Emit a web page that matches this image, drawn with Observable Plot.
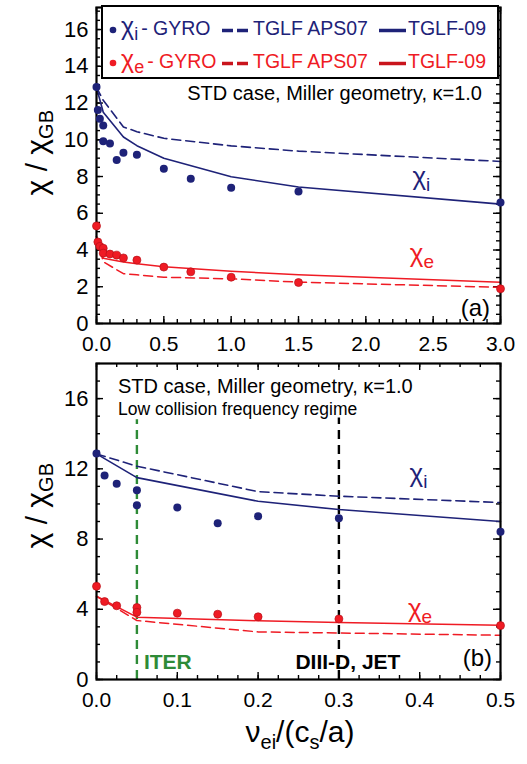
<!DOCTYPE html>
<html>
<head>
<meta charset="utf-8">
<script src="https://cdn.jsdelivr.net/npm/d3@7"></script>
<script src="https://cdn.jsdelivr.net/npm/@observablehq/plot@0.6"></script>
<style>
  body { margin: 0; background: #fff; }
  #chart { width: 527px; height: 764px; }
  #chart svg { display: block; }
</style>
</head>
<body>
<div id="chart"></div>
<script>
// ---------------- data ----------------
const gyroNu   = [0, 0.01, 0.025, 0.05, 0.05, 0.1, 0.15, 0.2, 0.3, 0.5, 0.7, 1.0, 1.5, 3.0];
const gyroChiI = [12.87, 11.62, 11.15, 10.78, 9.92, 9.8, 8.9, 9.3, 9.18, 8.42, 7.88, 7.39, 7.19, 6.59];
const gyroChiE = [5.31, 4.44, 4.2, 4.1, 3.83, 3.78, 3.72, 3.57, 3.45, 3.07, 2.81, 2.52, 2.23, 1.89];

const tglfNu     = [0, 0.05, 0.2, 0.3, 0.5, 1.0, 1.5, 3.0];
const aps07ChiI  = [12.85, 12.15, 10.7, 10.44, 10.08, 9.67, 9.38, 8.82];
const tglf09ChiI = [12.85, 11.5, 10.15, 9.68, 9.0, 7.99, 7.43, 6.5];
const aps07ChiE  = [4.74, 3.36, 2.71, 2.65, 2.52, 2.43, 2.25, 1.97];
const tglf09ChiE = [4.74, 3.55, 3.35, 3.25, 3.09, 2.84, 2.65, 2.25];

const refNu    = [0.05, 0.3];
const refTop   = [14.8, 14.9];
const refLabel = ["ITER", "DIII-D, JET"];

const xTicksA = [0, 0.5, 1.0, 1.5, 2.0, 2.5, 3.0];
const yTicksA = [0, 2, 4, 6, 8, 10, 12, 14, 16];
const xTicksB = [0, 0.1, 0.2, 0.3, 0.4, 0.5];
const yTicksB = [0, 4, 8, 12, 16];

const legendLabels = ["- GYRO", "TGLF APS07", "TGLF-09"];
const annotationA = "STD case, Miller geometry, \u03ba=1.0";
const annotationB = ["STD case, Miller geometry, \u03ba=1.0", "Low collision frequency regime"];

// ---------------- tables ----------------
const gyro = gyroNu.map((x, k) => ({x, i: gyroChiI[k], e: gyroChiE[k]}));
const tglf = tglfNu.map((x, k) => ({x, ai: aps07ChiI[k], ti: tglf09ChiI[k], ae: aps07ChiE[k], te: tglf09ChiE[k]}));
const refs = refNu.map((x, k) => ({x, top: refTop[k], label: refLabel[k]}));

// ---------------- styles ----------------
const FONT = "'Liberation Sans', Arial, Helvetica, sans-serif";
const NAVY = "#1e2278";
const RED = "#ef1b24";
const DARKRED = "#c9141c";
const GREEN = "#2e8b37";
const W = 527, ML = 96, MR = 27;
const PW = W - ML - MR;

function makePanel(o) {
  const H = o.height - o.marginTop - o.marginBottom;
  const keep = d => d.x <= o.xDomain[1] + 1e-9;
  const g = gyro.filter(keep), t = tglf.filter(keep);
  const tick = {stroke: "black", strokeWidth: 1.4};
  return Plot.plot({
    width: W, height: o.height,
    marginLeft: ML, marginRight: MR, marginTop: o.marginTop, marginBottom: o.marginBottom,
    style: {fontFamily: FONT, fontSize: "21px", color: "black", background: "white", overflow: "visible"},
    x: {domain: o.xDomain},
    y: {domain: o.yDomain},
    marks: [
      Plot.ruleX(o.xMinor, {...tick, insetTop: H - 4}),
      Plot.ruleX(o.xMinor, {...tick, insetBottom: H - 4}),
      Plot.ruleX(o.xTicks, {...tick, insetTop: H - 7}),
      Plot.ruleX(o.xTicks, {...tick, insetBottom: H - 7}),
      Plot.ruleY(o.yMinor, {...tick, insetRight: PW - 4}),
      Plot.ruleY(o.yMinor, {...tick, insetLeft: PW - 4}),
      Plot.ruleY(o.yTicks, {...tick, insetRight: PW - 7}),
      Plot.ruleY(o.yTicks, {...tick, insetLeft: PW - 7}),
      ...(o.extra || []),
      Plot.line(t, {x: "x", y: "ai", stroke: NAVY, strokeWidth: 1.6, strokeDasharray: "9,5"}),
      Plot.line(t, {x: "x", y: "ti", stroke: NAVY, strokeWidth: 1.6}),
      Plot.line(t, {x: "x", y: "ae", stroke: RED, strokeWidth: 1.5, strokeDasharray: "9,5"}),
      Plot.line(t, {x: "x", y: "te", stroke: RED, strokeWidth: 1.5}),
      Plot.frame({stroke: "black", strokeWidth: 2.2}),
      Plot.dot(g, {x: "x", y: "i", r: 4, fill: NAVY}),
      Plot.dot(g, {x: "x", y: "e", r: 4, fill: RED, stroke: "#b8111a", strokeWidth: 0.7}),
      Plot.axisX({ticks: o.xTicks, tickSize: 0, tickPadding: o.xPad, tickFormat: d3.format(".1f"), fontSize: 21, label: null}),
      Plot.axisY({ticks: o.yTicks, tickSize: 0, tickPadding: 8, fontSize: 22, label: null})
    ]
  });
}

const svgA = makePanel({
  height: 352, marginTop: 7, marginBottom: 29,
  xDomain: [0, 3], yDomain: [0, 17.2],
  xTicks: xTicksA, xMinor: d3.range(0, 3.0001, 0.1),
  yTicks: yTicksA, yMinor: d3.range(0, 17.01, 0.5),
  xPad: 13
});

const svgB = makePanel({
  height: 412, marginTop: 11, marginBottom: 85,
  xDomain: [0, 0.5], yDomain: [0, 18],
  xTicks: xTicksB, xMinor: d3.range(0, 0.5001, 0.025),
  yTicks: yTicksB, yMinor: d3.range(0, 18.01, 1),
  xPad: 13,
  extra: [
    Plot.ruleX([refs[0]], {x: "x", y1: 0, y2: "top", stroke: GREEN, strokeWidth: 2.4, strokeDasharray: "9,6"}),
    Plot.ruleX([refs[1]], {x: "x", y1: 0, y2: "top", stroke: "black", strokeWidth: 2.4, strokeDasharray: "9,6"}),
    Plot.text([refs[0]], {x: "x", y: 0.96, text: "label", dx: 7, textAnchor: "start", fill: GREEN, fontWeight: "bold", fontSize: 21}),
    Plot.text([refs[1]], {x: "x", y: 0.96, text: "label", dx: 9, textAnchor: "middle", fill: "black", fontWeight: "bold", fontSize: 21})
  ]
});

const chart = document.getElementById("chart");
chart.append(svgA, svgB);

// ---------------- helpers for rich text ----------------
function chiLabel(svg, xv, yv, sub, color) {
  const sx = svg.scale("x"), sy = svg.scale("y");
  const t = d3.select(svg).append("text")
    .attr("x", sx.apply(xv)).attr("y", sy.apply(yv))
    .attr("text-anchor", "start")
    .attr("font-family", FONT).attr("fill", color);
  t.append("tspan").attr("font-size", 26).text("\u03c7");
  t.append("tspan").attr("font-size", 19).attr("dy", 6).text(sub);
}
function yTitle(svg, yEnd) {
  const t = d3.select(svg).append("text")
    .attr("transform", `translate(47,${yEnd}) rotate(-90)`)
    .attr("text-anchor", "end").attr("font-family", FONT).attr("fill", "black");
  t.append("tspan").attr("font-size", 30).text("\u03c7 / \u03c7");
  t.append("tspan").attr("font-size", 20).attr("dy", 6).text("GB");
}
function plainText(svg, x, y, str, size, anchor, color) {
  d3.select(svg).append("text").attr("x", x).attr("y", y)
    .attr("text-anchor", anchor).attr("font-family", FONT)
    .attr("font-size", size).attr("fill", color || "black").text(str);
}

// ---------------- panel (a) annotations ----------------
plainText(svgA, 482, 100, annotationA, 20, "end");
plainText(svgA, 490, 316, "(a)", 24, "end");
chiLabel(svgA, 2.35, 7.5, "i", NAVY);
chiLabel(svgA, 2.33, 3.3, "e", RED);
yTitle(svgA, 110);

// legend
const L = d3.select(svgA).append("g").attr("font-family", FONT).attr("text-anchor", "start");
L.append("rect").attr("x", 102).attr("y", 6).attr("width", 396).attr("height", 72)
  .attr("fill", "white").attr("stroke", "black").attr("stroke-width", 2);
const legendRows = [
  {y: 35, text: NAVY, line: NAVY, sub: "i"},
  {y: 68, text: RED, line: DARKRED, sub: "e"}
];
legendRows.forEach(r => {
  L.append("circle").attr("cx", 113).attr("cy", r.y - 5).attr("r", 3.3).attr("fill", r.text);
  const t = L.append("text").attr("x", 121).attr("y", r.y).attr("text-anchor", "start")
    .attr("fill", r.text).attr("font-size", 19.5);
  t.append("tspan").attr("font-size", 25).text("\u03c7");
  t.append("tspan").attr("font-size", 18).attr("dy", 5).text(r.sub);
  t.append("tspan").attr("dy", -5).attr("dx", 3).text(legendLabels[0]);
  L.append("line").attr("x1", 222).attr("x2", 248).attr("y1", r.y - 4.5).attr("y2", r.y - 4.5)
    .attr("stroke", r.line).attr("stroke-width", 3.5).attr("stroke-dasharray", "11,4");
  L.append("text").attr("x", 253).attr("y", r.y).attr("text-anchor", "start")
    .attr("fill", r.text).attr("font-size", 19.5).text(legendLabels[1]);
  L.append("line").attr("x1", 379).attr("x2", 406).attr("y1", r.y - 4.5).attr("y2", r.y - 4.5)
    .attr("stroke", r.line).attr("stroke-width", 3.5);
  L.append("text").attr("x", 408).attr("y", r.y).attr("text-anchor", "start")
    .attr("fill", r.text).attr("font-size", 19.5).text(legendLabels[2]);
});

// ---------------- panel (b) annotations ----------------
plainText(svgB, 118, 41, annotationB[0], 20, "start");
plainText(svgB, 118, 63, annotationB[1], 17.5, "start");
plainText(svgB, 492, 314, "(b)", 24, "end");
chiLabel(svgB, 0.388, 11.2, "i", NAVY);
chiLabel(svgB, 0.386, 3.55, "e", RED);
yTitle(svgB, 111);

// x title
{
  const t = d3.select(svgB).append("text").attr("x", 300).attr("y", 390)
    .attr("text-anchor", "middle").attr("font-family", FONT).attr("fill", "black");
  t.append("tspan").attr("font-size", 30).text("\u03bd");
  t.append("tspan").attr("font-size", 20).attr("dy", 7).text("ei");
  t.append("tspan").attr("font-size", 30).attr("dy", -7).text("/(c");
  t.append("tspan").attr("font-size", 20).attr("dy", 7).text("s");
  t.append("tspan").attr("font-size", 30).attr("dy", -7).text("/a)");
}
</script>
</body>
</html>
